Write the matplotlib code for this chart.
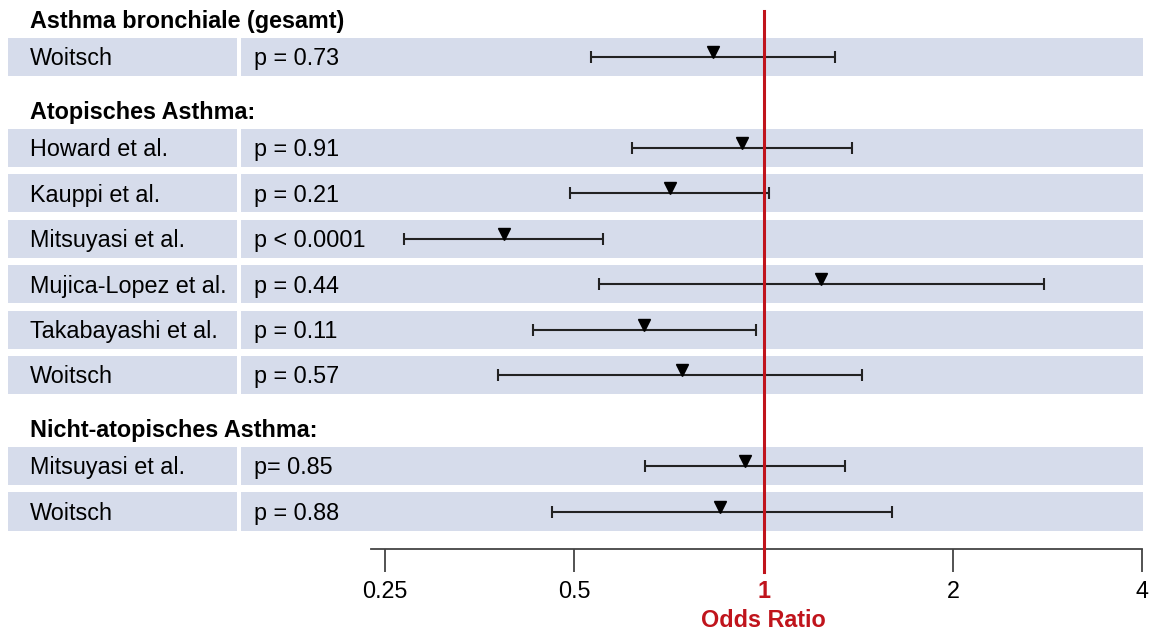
import matplotlib.pyplot as plt
from matplotlib.transforms import blended_transform_factory

plt.rcParams['font.family'] = ['Liberation Sans', 'DejaVu Sans']

# groups / studies
headers = ['Asthma bronchiale (gesamt)', 'Atopisches Asthma:', 'Nicht-atopisches Asthma:']
header_slots = [0, 2, 9]
studies = ['Woitsch',
           'Howard et al.', 'Kauppi et al.', 'Mitsuyasi et al.', 'Mujica-Lopez et al.',
           'Takabayashi et al.', 'Woitsch',
           'Mitsuyasi et al.', 'Woitsch']
slots = [0, 2, 3, 4, 5, 6, 7, 9, 10]
pvals = ['p = 0.73',
         'p = 0.91', 'p = 0.21', 'p < 0.0001', 'p = 0.44', 'p = 0.11', 'p = 0.57',
         'p= 0.85', 'p = 0.88']
odds = [0.83, 0.925, 0.71, 0.387, 1.234, 0.646, 0.741, 0.934, 0.854]
ci_low = [0.532, 0.618, 0.493, 0.268, 0.547, 0.430, 0.379, 0.647, 0.461]
ci_high = [1.30, 1.384, 1.02, 0.556, 2.788, 0.974, 1.436, 1.346, 1.597]

xticks = [0.25, 0.5, 1, 2, 4]
xticklabels = ['0.25', '0.5', '1', '2', '4']

band_color = '#d6dceb'
red = '#c0141c'
fs = 16.8

W, H = 1157, 633
fig = plt.figure(figsize=(W / 100, H / 100), dpi=100)

ylim = (10.825, -1.254)
bottom = (H - 549) / H

ax = fig.add_axes([241 / W, bottom, (1143 - 241) / W, 549 / H])
ax_left = fig.add_axes([8 / W, bottom, (237 - 8) / W, 549 / H])
ax.patch.set_visible(False)
ax_left.patch.set_visible(False)

for a in (ax_left, ax):
    a.set_ylim(*ylim)
    for s in slots:
        a.axhspan(s - 0.42, s + 0.42, color=band_color, lw=0, zorder=0)

ax_left.set_xlim(0, 1)
ax_left.axis('off')

# text sits a touch below the band centre, like the original
txt_off = 0.04
for name, s in zip(studies, slots):
    ax_left.text(0.096, s + txt_off, name, fontsize=fs, va='center', ha='left')
for h, s in zip(headers, header_slots):
    ax_left.text(0.096, s - 0.78, h, fontsize=fs, fontweight='bold',
                 va='center', ha='left', clip_on=False)

trans = blended_transform_factory(ax.transAxes, ax.transData)
for p, s in zip(pvals, slots):
    ax.text(0.0144, s + txt_off, p, fontsize=fs, va='center', ha='left', transform=trans)

# confidence intervals and odds ratio markers
xerr = [[o - l for o, l in zip(odds, ci_low)], [h - o for o, h in zip(odds, ci_high)]]
ax.errorbar(odds, slots, xerr=xerr, fmt='none', ecolor='#222222', elinewidth=1.5,
            capsize=4, capthick=1.5, zorder=3)
ax.plot(odds, [s - 0.11 for s in slots], 'v', color='black', markersize=8.5, zorder=4)

ax.set_xscale('log', base=2)
ax.set_xlim(2 ** (-2.759), 2 ** 2.003)
ax.set_xticks(xticks)
ax.set_xticklabels(xticklabels)
ax.minorticks_off()
ax.tick_params(axis='x', length=16.5, width=1.3, color='#444444', pad=6, labelsize=fs)
ax.set_yticks([])
for side in ('top', 'left', 'right'):
    ax.spines[side].set_visible(False)
ax.spines['bottom'].set_bounds(0.2378, 4.0)
ax.spines['bottom'].set_color('#444444')
ax.spines['bottom'].set_linewidth(1.3)

lbl = ax.get_xticklabels()[2]
lbl.set_color(red)
lbl.set_fontweight('bold')

ax.axvline(1, ymin=-0.042, ymax=0.98, color=red, lw=2.2, clip_on=False, zorder=5)

trans_x = blended_transform_factory(ax.transData, ax.transAxes)
ax.text(1, -0.1306, 'Odds Ratio', color=red, fontsize=fs, fontweight='bold',
        ha='center', va='center', transform=trans_x)

fig.savefig('out.png', dpi=100)
